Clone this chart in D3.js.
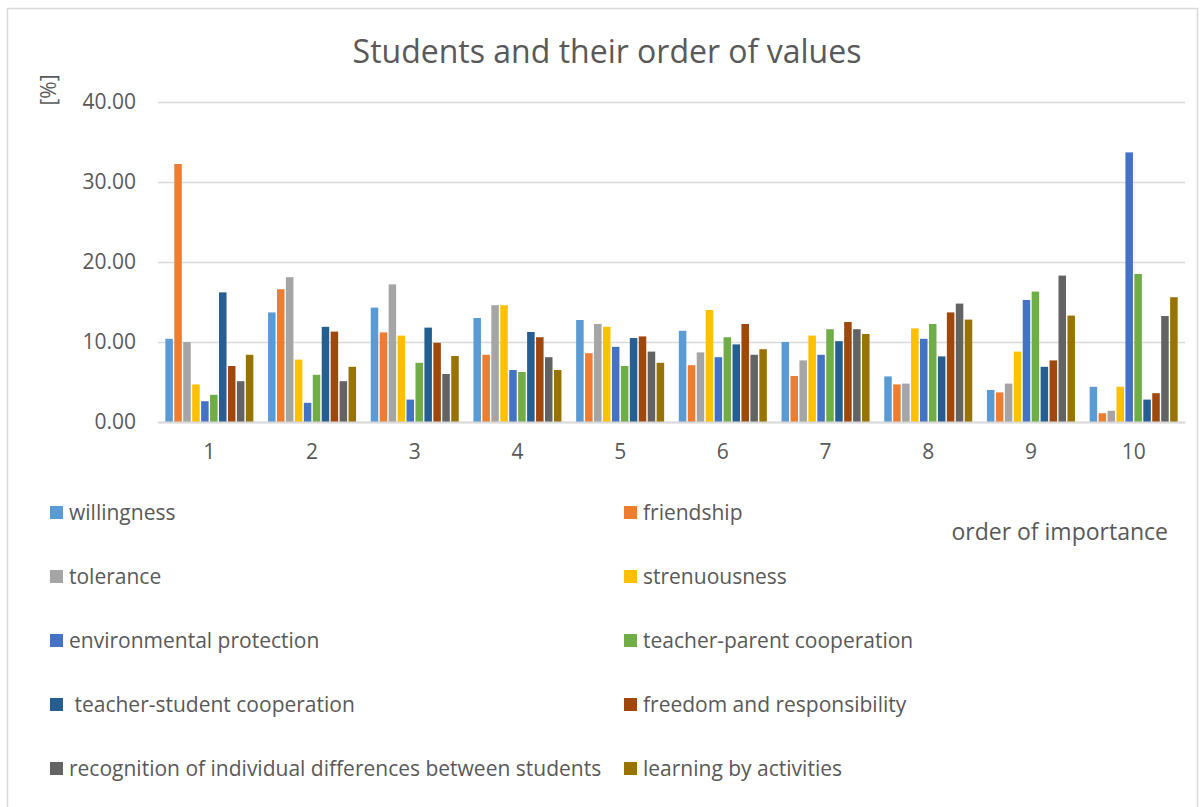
<!DOCTYPE html>
<html>
<head>
<meta charset="utf-8">
<script src="https://cdn.jsdelivr.net/npm/d3@7"></script>
<style>
  body { margin: 0; background: #fff; }
  text { font-family: "Open Sans", sans-serif; fill: #595959; }
</style>
</head>
<body>
<div id="chart"></div>
<script>
var categories = ["1", "2", "3", "4", "5", "6", "7", "8", "9", "10"];
var seriesNames = ["willingness", "friendship", "tolerance", "strenuousness",
    "environmental protection", "teacher-parent cooperation", " teacher-student cooperation",
    "freedom and responsibility", "recognition of individual differences between students",
    "learning by activities"];
var colors = ["#5B9BD5", "#ED7D31", "#A5A5A5", "#FFC000", "#4472C4",
    "#70AD47", "#255E91", "#9E480E", "#636363", "#997300"];

// one array per value, index = order of importance 1..10
var willingness = [10.4, 13.7, 14.3, 13.0, 12.75, 11.4, 10.0, 5.7, 4.0, 4.4];
var friendship = [32.25, 16.6, 11.2, 8.4, 8.6, 7.1, 5.75, 4.7, 3.7, 1.1];
var tolerance = [10.0, 18.1, 17.2, 14.6, 12.25, 8.7, 7.7, 4.8, 4.8, 1.4];
var strenuousness = [4.7, 7.8, 10.8, 14.6, 11.9, 14.0, 10.8, 11.7, 8.8, 4.4];
var environment = [2.6, 2.4, 2.8, 6.5, 9.4, 8.1, 8.4, 10.4, 15.25, 33.7];
var teacherParent = [3.4, 5.9, 7.4, 6.25, 7.0, 10.6, 11.6, 12.25, 16.3, 18.5];
var teacherStudent = [16.2, 11.9, 11.8, 11.25, 10.5, 9.7, 10.1, 8.2, 6.9, 2.8];
var freedom = [7.0, 11.3, 9.9, 10.6, 10.7, 12.25, 12.5, 13.7, 7.7, 3.6];
var recognition = [5.1, 5.1, 6.0, 8.1, 8.8, 8.4, 11.6, 14.8, 18.3, 13.25];
var learning = [8.4, 6.9, 8.25, 6.5, 7.4, 9.1, 11.0, 12.8, 13.3, 15.6];
var yTicks = [0, 10, 20, 30, 40];

var allSeries = [willingness, friendship, tolerance, strenuousness, environment,
    teacherParent, teacherStudent, freedom, recognition, learning];

var W = 1203, H = 807;
var svg = d3.select("#chart").append("svg").attr("width", W).attr("height", H);

// outer chart border
svg.append("rect").attr("x", 7.5).attr("y", 8.5).attr("width", 1190).attr("height", 820)
    .attr("fill", "none").attr("stroke", "#d9d9d9").attr("stroke-width", 1.5);

var plotLeft = 158, plotRight = 1185, plotTop = 102, plotBottom = 422;

var x0 = d3.scaleBand().domain(categories).range([plotLeft, plotRight])
    .paddingInner(0.143).paddingOuter(0.0715);
var x1 = d3.scaleBand().domain(d3.range(seriesNames.length)).range([0, x0.bandwidth()])
    .paddingInner(0.16);
var y = d3.scaleLinear().domain([0, 40]).range([plotBottom, plotTop]);

// gridlines + y labels
var yAxis = svg.append("g").attr("transform", "translate(" + plotLeft + ",0)")
    .call(d3.axisLeft(y).tickValues(yTicks).tickSize(-(plotRight - plotLeft))
        .tickFormat(d3.format(".2f")).tickPadding(22));
yAxis.select(".domain").remove();
yAxis.selectAll("line").attr("stroke", "#d9d9d9").attr("stroke-width", 1.5);
yAxis.selectAll("text").style("font-size", "21px").attr("fill", "#595959");

// bars
var groups = svg.append("g").selectAll("g").data(categories).enter().append("g")
    .attr("transform", function (d) { return "translate(" + x0(d) + ",0)"; });

groups.selectAll("rect").data(function (d, i) {
    return allSeries.map(function (s, j) { return { s: j, v: s[i] }; });
}).enter().append("rect")
    .attr("x", function (d) { return x1(d.s); })
    .attr("width", x1.bandwidth())
    .attr("y", function (d) { return y(d.v); })
    .attr("height", function (d) { return y(0) - y(d.v); })
    .attr("fill", function (d) { return colors[d.s]; });

// x axis
var xAxis = svg.append("g").attr("transform", "translate(0," + plotBottom + ")")
    .call(d3.axisBottom(x0).tickSize(0).tickPadding(22));
xAxis.select(".domain").attr("stroke", "#d9d9d9").attr("stroke-width", 2);
xAxis.selectAll("text").style("font-size", "21px").attr("fill", "#595959");

// title
svg.append("text").attr("x", 607).attr("y", 63).attr("text-anchor", "middle")
    .style("font-size", "32px").text("Students and their order of values");

// y axis title
svg.append("text").attr("transform", "translate(56,90) rotate(-90)")
    .attr("text-anchor", "middle").style("font-size", "21px").text("[%]");

// x axis title
svg.append("text").attr("x", 1168).attr("y", 540).attr("text-anchor", "end")
    .style("font-size", "23px").text("order of importance");

// legend
var legend = svg.append("g").selectAll("g").data(seriesNames).enter().append("g")
    .attr("transform", function (d, i) {
        var col = i % 2, row = Math.floor(i / 2);
        return "translate(" + (col === 0 ? 50 : 624) + "," + (512 + row * 64) + ")";
    });
legend.append("rect").attr("x", 0).attr("y", -6).attr("width", 13).attr("height", 13)
    .attr("fill", function (d, i) { return colors[i]; });
legend.append("text").attr("x", 19).attr("y", 8).style("font-size", "21px")
    .style("white-space", "pre").attr("xml:space", "preserve")
    .text(function (d) { return d; });
</script>
</body>
</html>
